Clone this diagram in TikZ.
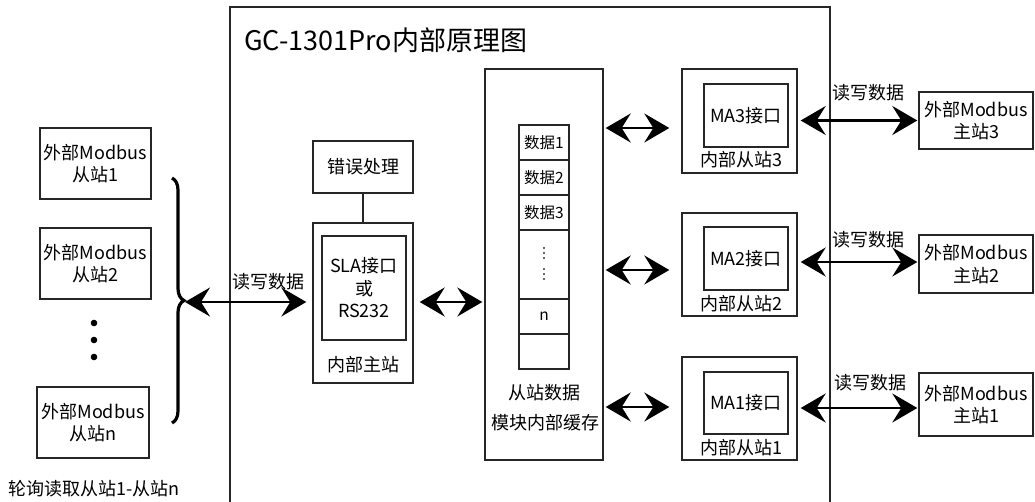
\documentclass[tikz,border=0pt]{standalone}
\usepackage{fontspec}
\setmainfont{Noto Sans CJK SC}
\usetikzlibrary{arrows.meta,decorations.pathreplacing,calc}
\begin{document}
\begin{tikzpicture}[x=1pt,y=-1pt,
  box/.style={draw=black!85, line width=1.4pt, inner sep=0pt},
  cell/.style={draw=black!85, line width=1.2pt, inner sep=0pt, minimum width=50pt, font=\fontsize{15.5}{18}\selectfont},
  lbl/.style={font=\fontsize{18}{22.5}\selectfont, align=center, inner sep=0pt},
  tip/.style={Stealth[length=25pt,width=29pt,inset=9pt]},
  arr/.style={line width=2.2pt, {Stealth[length=25pt,width=29pt,inset=9pt]}-{Stealth[length=25pt,width=29pt,inset=9pt]}}
]
\useasboundingbox (0,0) rectangle (1035,501);
\clip (0,0) rectangle (1035,501);
% main frame
\draw[line width=1.2pt, draw=black!85] (230,510) -- (230,7) -- (830,7) -- (830,510);
\node[anchor=west, font=\fontsize{27}{30}\selectfont, inner sep=0pt] (title) at (244,40) {GC-1301Pro内部原理图};

% external slaves
\node[box, lbl, minimum width=111pt, minimum height=71pt] (s1) at (95.5,163.5) {外部Modbus\\从站1};
\node[box, lbl, minimum width=111pt, minimum height=71pt] (s2) at (95.5,263.5) {外部Modbus\\从站2};
\node[box, lbl, minimum width=112pt, minimum height=71pt] (sn) at (93,422.5) {外部Modbus\\从站n};
\foreach \yy in {323,340,357} \fill (94,\yy) circle (3.3pt);
\node[lbl] (cap) at (94,489) {轮询读取从站1-从站n};
\coordinate (btop) at (172,178);
\coordinate (bbot) at (172,423);
\draw[line width=3.2pt, decorate, decoration={brace, amplitude=12pt}] (btop) -- (bbot);
\coordinate (btip) at (185,302);

% internal master
\node[box, lbl, minimum width=100pt, minimum height=52pt] (err) at (363,167) {错误处理};
\node[box, minimum width=100pt, minimum height=160pt] (master) at (363,303) {};
\node[box, lbl, minimum width=84pt, minimum height=104pt] (sla) at (364,288) {SLA接口\\或\\RS232};
\node[lbl] (mlbl) at (363,365) {内部主站};
\draw[line width=1.8pt, draw=black!85] (err.south) -- (master.north);

% cache
\node[box, minimum width=118pt, minimum height=391pt] (cache) at (544,264.5) {};
\node[cell, minimum height=35pt] (c1) at (544,142.5) {数据1};
\node[cell, minimum height=35pt] (c2) at (544,177.5) {数据2};
\node[cell, minimum height=35pt] (c3) at (544,212.5) {数据3};
\node[cell, minimum height=69pt] (c4) at (544,264.5) {};
\foreach \yy in {248,253,258,269,274,279} \fill[black!80] (544,\yy) circle (1.1pt);
\node[cell, minimum height=35pt] (c5) at (544,316.5) {n};
\node[cell, minimum height=35pt] (c6) at (544,351.5) {};
\node[lbl] (cl1) at (544,393) {从站数据};
\node[lbl] (cl2) at (545,423) {模块内部缓存};

% internal slaves
\node[box, minimum width=115pt, minimum height=104pt] (ss3) at (739.5,121) {};
\node[box, minimum width=115pt, minimum height=103pt] (ss2) at (739.5,264.5) {};
\node[box, minimum width=115pt, minimum height=103pt] (ss1) at (739.5,408.5) {};
\node[box, lbl, minimum width=84pt, minimum height=63pt] (i3) at (746,115.5) {MA3接口};
\node[box, lbl, minimum width=84pt, minimum height=63pt] (i2) at (746,258.5) {MA2接口};
\node[box, lbl, minimum width=84pt, minimum height=62pt] (i1) at (746,403) {MA1接口};
\node[lbl] (l3) at (741,160) {内部从站3};
\node[lbl] (l2) at (741,304) {内部从站2};
\node[lbl] (l1) at (741,448) {内部从站1};

% external masters
\node[box, lbl, minimum width=114pt, minimum height=57pt] (m3) at (976,120.5) {外部Modbus\\主站3};
\node[box, lbl, minimum width=114pt, minimum height=58pt] (m2) at (976,264) {外部Modbus\\主站2};
\node[box, lbl, minimum width=114pt, minimum height=63pt] (m1) at (976,404.5) {外部Modbus\\主站1};

% arrows
\draw[arr, shorten >=6pt] (btip) -- (master.west |- btip);
\node[lbl] (rw0) at (268,282) {读写数据};
\draw[arr, shorten <=6pt, shorten >=2pt] (master.east |- 0,302) -- (cache.west |- 0,302);
\draw[arr, shorten <=2pt, shorten >=12pt] (cache.east |- 0,128) -- (ss3.west |- 0,128);
\draw[arr, shorten <=2pt, shorten >=12pt] (cache.east |- 0,270) -- (ss2.west |- 0,270);
\draw[arr, shorten <=2pt, shorten >=12pt] (cache.east |- 0,407) -- (ss1.west |- 0,407);
\draw[arr, shorten <=3pt, shorten >=1pt] (ss3.east |- m3) -- (m3.west);
\draw[arr, shorten <=3pt, shorten >=1pt] (ss2.east |- 0,262) -- (m2.west |- 0,262);
\draw[arr, shorten <=3pt, shorten >=1pt] (ss1.east |- 0,408) -- (m1.west |- 0,408);
\node[lbl] (rw3) at (868,93) {读写数据};
\node[lbl] (rw2) at (868,240) {读写数据};
\node[lbl] (rw1) at (870,383) {读写数据};
\end{tikzpicture}
\end{document}
